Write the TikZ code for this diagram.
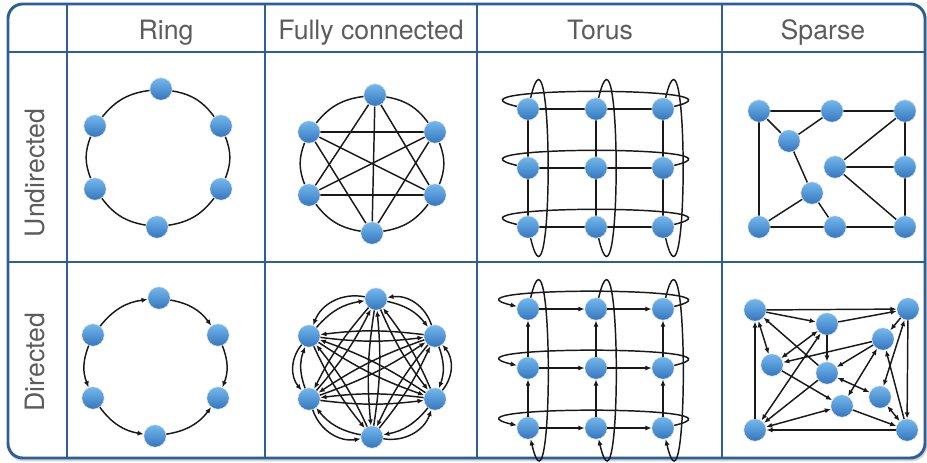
\documentclass[tikz,border=0pt]{standalone}
\usepackage{fontspec}
\setmainfont{TeX Gyre Heros}
\usetikzlibrary{arrows.meta}
\pgfdeclarelayer{back}
\pgfdeclarelayer{bg}
\pgfsetlayers{back,bg,main}
\definecolor{tblue}{RGB}{44,95,150}
\definecolor{labgray}{RGB}{92,92,92}
\definecolor{vtop}{RGB}{116,184,238}
\definecolor{vbot}{RGB}{52,118,190}
\tikzset{
  v/.style={circle, minimum size=16.8pt, inner sep=0pt, top color=vtop, bottom color=vbot, draw=white!80!gray, line width=0.4pt},
  e/.style={line width=1.1pt, black!90},
  a/.style={e, -{Latex[length=4.6pt,width=3.8pt]}},
  aa/.style={e, {Latex[length=4.6pt,width=3.8pt]}-{Latex[length=4.6pt,width=3.8pt]}},
  tline/.style={draw=tblue, line width=2.2pt},
  lab/.style={font=\fontsize{20}{23}\selectfont, text=labgray, inner sep=0pt},
}
\begin{document}
\begin{tikzpicture}[x=0.75pt,y=0.75pt]
\useasboundingbox (0,0) rectangle (927,-462);
% table
\begin{pgfonlayer}{back}
\draw[gray!35, line width=2pt, rounded corners=11pt] (9,-6) rectangle (926,-460);
\fill[white, rounded corners=11pt] (8,-4) rectangle (925,-458);
\end{pgfonlayer}
\draw[tline] (8,-52) -- (925,-52);
\draw[tline] (8,-262) -- (925,-262);
\draw[tline] (67,-4) -- (67,-458);
\draw[tline] (265,-4) -- (265,-458);
\draw[tline] (477,-4) -- (477,-458);
\draw[tline] (722,-4) -- (722,-458);
\draw[tline, rounded corners=11pt] (8,-4) rectangle (925,-458);
% labels
\node[lab, anchor=base] (hring) at (166,-39) {Ring};
\node[lab, anchor=base] (hfull) at (371,-39) {Fully connected};
\node[lab, anchor=base] (htor) at (600,-39) {Torus};
\node[lab, anchor=base] (hsp) at (823,-39) {Sparse};
\node[lab, anchor=base, rotate=90] (hund) at (44,-173) {Undirected};
\node[lab, anchor=base, rotate=90] (hdir) at (44,-362) {Directed};

% ---------- Undirected ring
\node[v] (ra) at (161,-89) {};
\node[v] (rb) at (221,-126) {};
\node[v] (rc) at (221,-189) {};
\node[v] (rd) at (157,-227) {};
\node[v] (re) at (95,-189) {};
\node[v] (rf) at (95,-126) {};
\begin{pgfonlayer}{bg}
\draw[e] (ra) to[bend left=22] (rb);
\draw[e] (rb) to[bend left=22] (rc);
\draw[e] (rc) to[bend left=22] (rd);
\draw[e] (rd) to[bend left=22] (re);
\draw[e] (re) to[bend left=22] (rf);
\draw[e] (rf) to[bend left=22] (ra);
\end{pgfonlayer}

% ---------- Undirected fully connected
\node[v] (fa) at (375,-95) {};
\node[v] (fb) at (435,-132) {};
\node[v] (fc) at (435,-195) {};
\node[v] (fd) at (372,-233) {};
\node[v] (fe) at (309,-195) {};
\node[v] (ff) at (309,-132) {};
\begin{pgfonlayer}{bg}
\draw[e] (fa) to[bend left=22] (fb);
\draw[e] (fb) to[bend left=22] (fc);
\draw[e] (fc) to[bend left=22] (fd);
\draw[e] (fd) to[bend left=22] (fe);
\draw[e] (fe) to[bend left=22] (ff);
\draw[e] (ff) to[bend left=22] (fa);
\draw[e] (ff) -- (fb);
\draw[e] (fe) -- (fc);
\draw[e] (fa) -- (fd);
\draw[e] (fa) -- (fe);
\draw[e] (fa) -- (fc);
\draw[e] (ff) -- (fc);
\draw[e] (ff) -- (fd);
\draw[e] (fb) -- (fe);
\draw[e] (fb) -- (fd);
\end{pgfonlayer}

% ---------- Undirected torus
\foreach \r/\yy in {1/109,2/168,3/227}{
  \foreach \c/\xx in {1/528,2/596,3/663}{
    \node[v] (t\r\c) at (\xx,-\yy) {};
  }
}
\begin{pgfonlayer}{bg}
\foreach \r in {1,2,3}{
  \draw[e] (t\r1) -- (t\r2);
  \draw[e] (t\r2) -- (t\r3);
  \draw[e] (t\r3) .. controls +(97,22.7) and +(-97,22.7) .. (t\r1);
}
\foreach \c in {1,2,3}{
  \draw[e] (t1\c) -- (t2\c);
  \draw[e] (t2\c) -- (t3\c);
  \draw[e] (t1\c) .. controls +(26,110) and +(26,-110) .. (t3\c);
}
\end{pgfonlayer}

% ---------- Undirected sparse
\node[v] (s1) at (759,-111) {};
\node[v] (s2) at (832,-111) {};
\node[v] (s3) at (905,-111) {};
\node[v] (s4) at (789,-141) {};
\node[v] (s5) at (835,-167) {};
\node[v] (s6) at (905,-167) {};
\node[v] (s7) at (812,-193) {};
\node[v] (s8) at (759,-227) {};
\node[v] (s9) at (835,-227) {};
\node[v] (s10) at (905,-227) {};
\begin{pgfonlayer}{bg}
\draw[e] (s1) -- (s2);
\draw[e] (s2) -- (s3);
\draw[e] (s1) -- (s4);
\draw[e] (s4) -- (s2);
\draw[e] (s1) -- (s8);
\draw[e] (s3) -- (s6);
\draw[e] (s6) -- (s10);
\draw[e] (s3) -- (s5);
\draw[e] (s5) -- (s6);
\draw[e] (s5) -- (s10);
\draw[e] (s4) -- (s7);
\draw[e] (s7) -- (s8);
\draw[e] (s7) -- (s9);
\draw[e] (s8) -- (s9);
\draw[e] (s9) -- (s10);
\end{pgfonlayer}

% ---------- Directed ring
\node[v] (pa) at (159,-298) {};
\node[v] (pb) at (218,-335) {};
\node[v] (pc) at (218,-398) {};
\node[v] (pd) at (155,-436) {};
\node[v] (pe) at (93,-398) {};
\node[v] (pf) at (93,-335) {};
\draw[a] (pf) to[bend left=22] (pa);
\draw[a] (pa) to[bend left=22] (pb);
\draw[a] (pb) to[bend left=22] (pc);
\draw[a] (pf) to[bend right=22] (pe);
\draw[a] (pe) to[bend right=22] (pd);
\draw[a] (pd) to[bend right=22] (pc);

% ---------- Directed fully connected
\node[v] (ga) at (376,-299) {};
\node[v] (gb) at (435,-336) {};
\node[v] (gc) at (435,-399) {};
\node[v] (gd) at (372,-437) {};
\node[v] (ge) at (309,-399) {};
\node[v] (gf) at (309,-336) {};
\foreach \p/\q in {ga/gb,gb/gc,gc/gd,gd/ge,ge/gf,gf/ga}{
  \draw[a] (\p) to[bend left=20] (\q);
  \draw[a] (\q) to[bend right=40] (\p);
}
\foreach \p/\q in {gf/gb,ge/gc,ga/gd,ga/ge,ga/gc,gf/gc,gf/gd,gb/ge,gb/gd}{
  \draw[a] (\p) to[bend right=7] (\q);
  \draw[a] (\q) to[bend right=7] (\p);
}

% ---------- Directed torus
\foreach \r/\yy in {1/309,2/368,3/428}{
  \foreach \c/\xx in {1/528,2/596,3/663}{
    \node[v] (u\r\c) at (\xx,-\yy) {};
  }
}
\foreach \r in {1,2,3}{
  \draw[a] (u\r1) -- (u\r2);
  \draw[a] (u\r2) -- (u\r3);
  \draw[a] (u\r3) .. controls +(97,22.7) and +(-97,22.7) .. (u\r1);
}
\foreach \c in {1,2,3}{
  \draw[a] (u3\c) -- (u2\c);
  \draw[a] (u2\c) -- (u1\c);
  \draw[a] (u1\c) .. controls +(26,110) and +(26,-110) .. (u3\c);
}

% ---------- Directed sparse
\node[v] (d1) at (755,-310) {};
\node[v] (d2) at (908,-309) {};
\node[v] (d3) at (827,-324) {};
\node[v] (d4) at (883,-339) {};
\node[v] (d5) at (772,-365) {};
\node[v] (d6) at (827,-373) {};
\node[v] (d7) at (880,-397) {};
\node[v] (d8) at (842,-406) {};
\node[v] (d9) at (755,-430) {};
\node[v] (d10) at (907,-430) {};
\draw[a] (d1) -- (d2);
\draw[a] (d1) -- (d3);
\draw[a] (d3) -- (d2);
\draw[a] (d2) -- (d10);
\draw[a] (d10) -- (d9);
\draw[a] (d9) -- (d1);
\draw[aa] (d1) -- (d5);
\draw[a] (d6) -- (d1);
\draw[aa] (d3) -- (d5);
\draw[a] (d3) -- (d6);
\draw[a] (d4) -- (d5);
\draw[a] (d2) -- (d4);
\draw[a] (d4) -- (d6);
\draw[aa] (d4) -- (d8);
\draw[aa] (d6) -- (d7);
\draw[aa] (d7) -- (d10);
\draw[aa] (d2) -- (d7);
\draw[a] (d10) -- (d4);
\draw[a] (d5) -- (d8);
\draw[a] (d8) -- (d10);
\draw[aa] (d8) -- (d9);
\draw[aa] (d3) -- (d9);
\draw[a] (d6) -- (d9);
\end{tikzpicture}
\end{document}
